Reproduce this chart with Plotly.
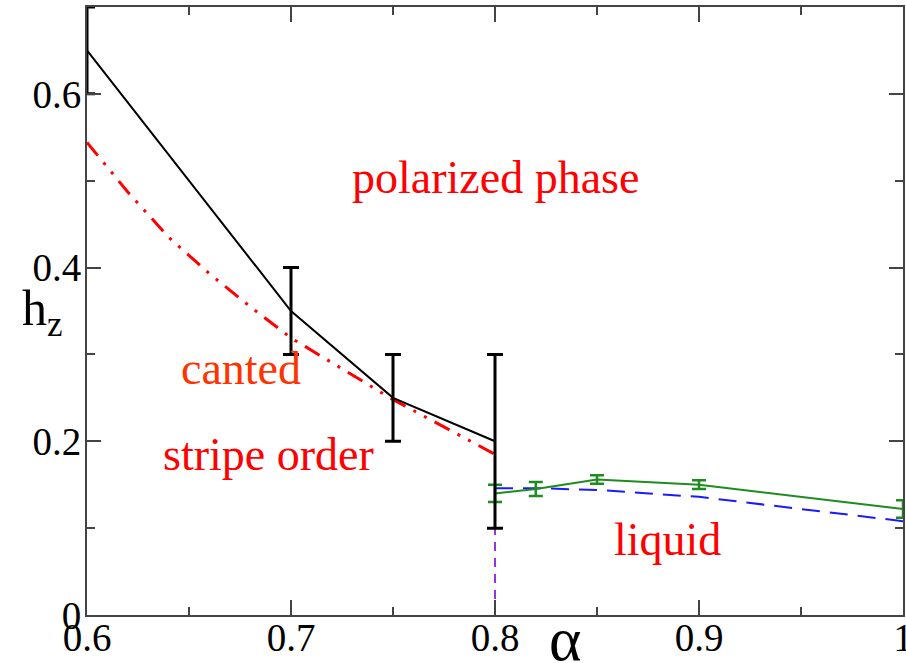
import plotly.graph_objects as go

# Black line (transition with error bars)
black_x = [0.6, 0.7, 0.75, 0.8]
black_y = [0.65, 0.35, 0.25, 0.2]
black_err = [0.05, 0.05, 0.05, 0.1]

# Red dash-dot-dot curve
red_x = [0.6, 0.62, 0.64, 0.66, 0.68, 0.7, 0.75, 0.8]
red_y = [0.544, 0.487, 0.435, 0.393, 0.355, 0.319, 0.248, 0.185]

# Green line with error bars
green_x = [0.8, 0.82, 0.85, 0.9, 1.0]
green_y = [0.14, 0.145, 0.156, 0.15, 0.122]
green_err = [0.01, 0.008, 0.005, 0.005, 0.01]

# Blue dashed line
blue_x = [0.8, 0.82, 0.85, 0.9, 1.0]
blue_y = [0.146, 0.146, 0.144, 0.136, 0.108]

# Purple dashed vertical
purple_x = [0.8, 0.8]
purple_y = [0.0, 0.14]

x_ticks = [0.6, 0.7, 0.8, 0.9, 1.0]
x_ticktext = ["0.6", "0.7", "0.8", "0.9", "1"]
y_ticks = [0, 0.2, 0.4, 0.6]
y_ticktext = ["0", "0.2", "0.4", "0.6"]

labels = ["polarized phase", "canted", "stripe order", "liquid"]
label_x = [0.8, 0.6755, 0.6892, 0.8846]
label_y = [0.504, 0.284, 0.185, 0.087]
label_colors = ["#ff0000", "#ff3300", "#ff0000", "#ff0000"]

FONT = "Liberation Serif"

fig = go.Figure()

fig.add_trace(go.Scatter(
    x=purple_x, y=purple_y, mode="lines",
    line=dict(color="#9933dd", width=2, dash="9px,7px"),
    showlegend=False))

fig.add_trace(go.Scatter(
    x=red_x, y=red_y, mode="lines",
    line=dict(color="#ff0000", width=3,
              dash="17px,9px,3px,9px,3px,9px"),
    showlegend=False))

fig.add_trace(go.Scatter(
    x=blue_x, y=blue_y, mode="lines",
    line=dict(color="#1a1aff", width=2, dash="18px,10px"),
    showlegend=False))

fig.add_trace(go.Scatter(
    x=green_x, y=green_y, mode="lines",
    line=dict(color="#1e8c1e", width=2),
    error_y=dict(type="data", array=green_err, visible=True,
                 color="#1e8c1e", thickness=2.5, width=7),
    showlegend=False))

fig.add_trace(go.Scatter(
    x=black_x, y=black_y, mode="lines",
    line=dict(color="#000000", width=2),
    error_y=dict(type="data", array=black_err, visible=True,
                 color="#000000", thickness=3, width=8),
    showlegend=False))

for t, xx, yy, c in zip(labels, label_x, label_y, label_colors):
    fig.add_annotation(x=xx, y=yy, xref="x", yref="y", text=t,
                       showarrow=False,
                       font=dict(family=FONT, size=46, color=c))

# axis titles
fig.add_annotation(xref="paper", yref="paper", x=(20 - 87) / 816, y=(615 - 312) / 608,
                   xanchor="left", yanchor="middle",
                   text="h<sub>z</sub>", showarrow=False,
                   font=dict(family=FONT, size=50, color="#000000"))
fig.add_annotation(xref="paper", yref="paper", x=(565 - 87) / 816, y=(615 - 639) / 608,
                   xanchor="center", yanchor="middle",
                   text="α", showarrow=False,
                   font=dict(family=FONT, size=62, color="#000000"))

axis_common = dict(
    showline=True, linecolor="#444444", linewidth=2, mirror="allticks",
    ticks="inside", tickcolor="#444444", tickwidth=2,
    showgrid=False, zeroline=False, automargin=False,
    ticklabeloverflow="allow",
    tickfont=dict(family=FONT, size=39, color="#000000"),
)

fig.update_xaxes(range=[0.6, 1.0], tickvals=x_ticks, ticktext=x_ticktext,
                 ticklen=15, ticklabelstandoff=-13,
                 minor=dict(dtick=0.05, ticks="inside", ticklen=8,
                            tickcolor="#444444", tickwidth=2, showgrid=False),
                 **axis_common)
fig.update_yaxes(range=[0, 0.7], tickvals=y_ticks, ticktext=y_ticktext,
                 ticklen=14, ticklabelstandoff=-4,
                 minor=dict(tickvals=[0.1, 0.3, 0.5, 0.7], ticks="inside", ticklen=8,
                            tickcolor="#444444", tickwidth=2, showgrid=False),
                 **axis_common)

fig.update_layout(
    width=906, height=663,
    margin=dict(l=87, r=3, t=7, b=48, autoexpand=False),
    plot_bgcolor="white", paper_bgcolor="white",
    showlegend=False,
    font=dict(family=FONT),
)

fig.write_html(
    "out.html",
    config={"displayModeBar": False},
    post_script="document.body.style.margin='0px';document.body.style.overflow='hidden';",
)
